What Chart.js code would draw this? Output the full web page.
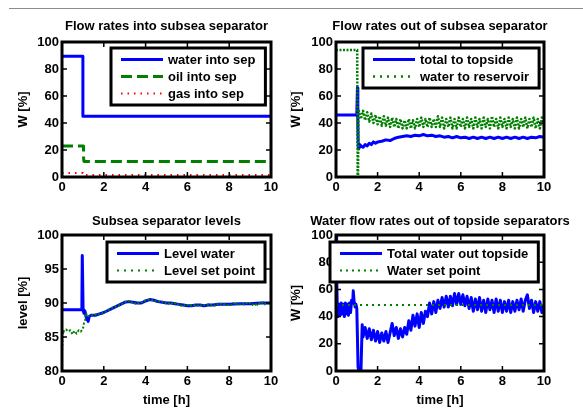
<!DOCTYPE html>
<html>
<head>
<meta charset="utf-8">
<script src="https://cdn.jsdelivr.net/npm/chart.js@4.4.1/dist/chart.umd.min.js"></script>
<style>
  body { margin: 0; background: #fff; width: 583px; height: 409px; overflow: hidden; position: relative; }
  canvas { position: absolute; }
  .rule { position: absolute; left: 9px; top: 8px; width: 574px; border-top: 1px solid #8c8c8c; }
  .mark { position: absolute; left: 290px; width: 0; border-left: 1px dashed #c8c8c8; }
</style>
</head>
<body>
<div class="rule"></div>
<div class="mark" style="top:90px;height:37px"></div>
<div class="mark" style="top:285px;height:37px"></div>
<canvas id="c1" width="285" height="205" style="left:0;top:0"></canvas>
<canvas id="c2" width="298" height="205" style="left:285px;top:0"></canvas>
<canvas id="c3" width="285" height="204" style="left:0;top:205px"></canvas>
<canvas id="c4" width="298" height="204" style="left:285px;top:205px"></canvas>
<script>
// tick labels
const xTicks = [0, 2, 4, 6, 8, 10];
const flowTicks = [0, 20, 40, 60, 80, 100];
const levelTicks = [80, 85, 90, 95, 100];

// Flow rates into subsea separator
const waterInT = [0, 1, 1, 10];
const waterInV = [89.5, 89.5, 45, 45];
const oilInT = [0, 1.03, 1.03, 1.05, 10];
const oilInV = [23, 23, 15, 11.5, 11.5];
const gasInT = [0, 1, 1, 10];
const gasInV = [3, 3, 1.5, 1.5];

// Flow rates out of subsea separator
const topsideT = [0, 1.0, 1.03, 1.05, 1.07, 1.1, 1.15, 1.2, 1.3, 1.4, 1.5, 1.6, 1.7, 1.8, 1.9, 2.0, 2.2, 2.4, 2.6, 2.8,
  3.0, 3.2, 3.4, 3.6, 3.8, 4.0, 4.2, 4.4, 4.6, 4.8, 5.0, 5.2, 5.4, 5.6, 5.8, 6.0, 6.2, 6.4, 6.6, 6.8,
  7.0, 7.2, 7.4, 7.6, 7.8, 8.0, 8.2, 8.4, 8.6, 8.8, 9.0, 9.2, 9.4, 9.6, 9.8, 10];
const topsideV = [46, 46, 66, 40, 22, 21, 24, 23, 22, 24, 23, 25, 24, 26, 25, 26, 26.5, 27.5, 27, 28.5,
  29.5, 30, 30.5, 30, 31, 30.5, 31.5, 30.5, 31, 30, 30.5, 29.5, 30, 29, 30, 29, 29.5, 28.5, 29.5, 28.5,
  29.5, 28.5, 29.5, 28.5, 29.5, 28.5, 29.5, 28.5, 29.5, 28.5, 29.5, 28.5, 29.5, 29, 30, 29.5];
const reservoirT = [0, 1.02, 1.04, 1.06, 1.08,
  1.1, 1.2, 1.3, 1.4, 1.5, 1.6, 1.7, 1.8, 1.9, 2.0, 2.1, 2.2, 2.3, 2.4, 2.5, 2.6, 2.7, 2.8, 2.9, 3.0,
  3.1, 3.2, 3.3, 3.4, 3.5, 3.6, 3.7, 3.8, 3.9, 4.0, 4.1, 4.2, 4.3, 4.4, 4.5, 4.6, 4.7, 4.8, 4.9, 5.0,
  5.1, 5.2, 5.3, 5.4, 5.5, 5.6, 5.7, 5.8, 5.9, 6.0, 6.1, 6.2, 6.3, 6.4, 6.5, 6.6, 6.7, 6.8, 6.9, 7.0,
  7.1, 7.2, 7.3, 7.4, 7.5, 7.6, 7.7, 7.8, 7.9, 8.0, 8.1, 8.2, 8.3, 8.4, 8.5, 8.6, 8.7, 8.8, 8.9, 9.0,
  9.1, 9.2, 9.3, 9.4, 9.5, 9.6, 9.7, 9.8, 9.9, 10.0];
const reservoirV = [94, 94, 0, 0, 47,
  49, 43, 49, 42, 48, 41, 47, 40, 46, 39, 45, 38, 45, 38, 44, 37, 44, 37, 43, 36,
  43, 36, 42, 36, 43, 36, 42, 36, 43, 37, 44, 37, 43, 37, 44, 37, 43, 37, 45, 37,
  44, 36, 43, 37, 44, 36, 43, 36, 44, 37, 43, 36, 44, 37, 43, 36, 44, 37, 43, 36,
  44, 37, 43, 36, 45, 37, 43, 36, 44, 37, 43, 36, 44, 37, 43, 36, 44, 36, 43, 37,
  44, 36, 43, 37, 44, 36, 43, 36, 44, 38];

// Subsea separator levels
const levelT = [0, 0.95, 0.97, 0.99, 1.01, 1.05, 1.1, 1.15, 1.2, 1.25, 1.3, 1.4, 1.6, 1.8, 2.0, 2.2, 2.4, 2.6, 2.8,
  3.0, 3.2, 3.4, 3.6, 3.8, 4.0, 4.2, 4.4, 4.6, 4.8, 5.0, 5.2, 5.4, 5.6, 5.8, 6.0, 6.2, 6.4, 6.6, 6.8,
  7.0, 7.2, 7.5, 8.0, 8.5, 9.0, 9.5, 10];
const levelV = [89, 89, 97, 97, 89, 88.5, 88.8, 88, 87.6, 87.3, 88, 88.2, 88.2, 88.4, 88.6, 88.9, 89.2, 89.5, 89.8,
  90.1, 90.2, 90.1, 90, 90, 90.3, 90.5, 90.4, 90.2, 90.1, 90, 90, 89.9, 89.8, 89.7, 89.6, 89.6, 89.7, 89.7, 89.6,
  89.7, 89.7, 89.8, 89.8, 89.9, 89.9, 90, 90];
const setPointT = [0, 0.03, 0.06, 0.1, 0.2, 0.3, 0.4, 0.5, 0.6, 0.7, 0.8, 0.9, 1.0, 1.05, 1.1, 1.15, 1.2,
  1.3, 1.4, 1.5, 1.6, 1.7, 1.8, 1.9, 2.0, 2.1, 2.2, 2.3, 2.4, 2.5, 2.6, 2.7, 2.8, 2.9, 3.0,
  3.1, 3.2, 3.3, 3.4, 3.5, 3.6, 3.7, 3.8, 3.9, 4.0, 4.1, 4.2, 4.3, 4.4, 4.5, 4.6, 4.7, 4.8, 4.9, 5.0,
  5.1, 5.2, 5.3, 5.4, 5.5, 5.6, 5.7, 5.8, 5.9, 6.0, 6.1, 6.2, 6.3, 6.4, 6.5, 6.6, 6.7, 6.8, 6.9, 7.0,
  7.1, 7.2, 7.3, 7.4, 7.5, 7.6, 7.7, 7.8, 7.9, 8.0, 8.1, 8.2, 8.3, 8.4, 8.5, 8.6, 8.7, 8.8, 8.9, 9.0,
  9.1, 9.2, 9.3, 9.4, 9.5, 9.6, 9.7, 9.8, 9.9, 10.0];
const setPointV = [82.5, 85, 86, 85.8, 86.1, 85.8, 86, 85.4, 85.9, 85.5, 86, 85.8, 86.2, 87, 87.5, 88.5, 88,
  88.1, 88.3, 88.1, 88.3, 88.2, 88.5, 88.4, 88.7, 88.7, 89.0, 89.0, 89.3, 89.3, 89.6, 89.6, 89.9, 89.9, 90.2,
  90.1, 90.3, 90.0, 90.2, 89.9, 90.1, 89.9, 90.1, 90.1, 90.4, 90.4, 90.6, 90.4, 90.5, 90.2, 90.3, 90.1, 90.2, 89.9, 90.1,
  89.9, 90.1, 89.8, 90.0, 89.7, 89.9, 89.6, 89.8, 89.5, 89.7, 89.5, 89.7, 89.6, 89.8, 89.6, 89.8, 89.5, 89.7, 89.6, 89.8,
  89.6, 89.8, 89.6, 89.9, 89.7, 89.9, 89.7, 89.9, 89.7, 89.9, 89.7, 90.0, 89.7, 90.0, 89.8, 90.0, 89.8, 90.0, 89.8, 90.0,
  89.7, 90.0, 89.5, 90.1, 89.8, 90.1, 89.8, 90.1, 89.9, 90.0];

// Water flow rates out of topside separators
const topWaterT = [0, 0.03, 0.06, 0.1, 0.15, 0.2, 0.25, 0.3, 0.35, 0.4, 0.45, 0.5, 0.55, 0.6, 0.65, 0.7, 0.75, 0.8,
  0.83, 0.87, 0.92, 0.96, 1.0, 1.03, 1.06, 1.1, 1.15, 1.2, 1.23, 1.26,
  1.3, 1.4, 1.5, 1.6, 1.7, 1.8, 1.9, 2.0, 2.1, 2.2, 2.3, 2.4, 2.5, 2.6, 2.7, 2.8, 2.9, 3.0,
  3.1, 3.2, 3.3, 3.4, 3.5, 3.6, 3.7, 3.8, 3.9, 4.0, 4.1, 4.2, 4.3, 4.4, 4.5, 4.6, 4.7, 4.8, 4.9, 5.0,
  5.1, 5.2, 5.3, 5.4, 5.5, 5.6, 5.7, 5.8, 5.9, 6.0, 6.1, 6.2, 6.3, 6.4, 6.5, 6.6, 6.7, 6.8, 6.9, 7.0,
  7.1, 7.2, 7.3, 7.4, 7.5, 7.6, 7.7, 7.8, 7.9, 8.0, 8.1, 8.2, 8.3, 8.4, 8.5, 8.6, 8.7, 8.8, 8.9, 9.0,
  9.1, 9.2, 9.3, 9.4, 9.5, 9.6, 9.7, 9.8, 9.9, 10.0];
const topWaterV = [100, 72, 48, 40, 49, 41, 50, 42, 49, 40, 50, 42, 49, 41, 50, 43, 52, 50,
  59, 51, 47, 49, 46, 25, 3, 0, 0, 0, 18, 34,
  25, 32, 24, 31, 23, 30, 22, 29, 21, 28, 22, 29, 21, 28, 35, 26, 32, 24,
  31, 25, 32, 27, 37, 30, 41, 33, 42, 32, 43, 35, 44, 40, 50, 42, 51, 43, 52, 46,
  54, 47, 55, 47, 55, 48, 57, 49, 57, 49, 56, 48, 55, 46, 54, 44, 53, 45, 54, 44,
  52, 43, 53, 45, 52, 43, 53, 44, 52, 43, 51, 44, 52, 43, 51, 44, 52, 45, 53, 44,
  52, 56, 46, 52, 43, 51, 44, 51, 43, 49];
const waterSetT = [0, 10];
const waterSetV = [48.5, 48.5];

const BLUE = '#0000ff';
const GREEN = '#008000';
const RED = '#ff0000';
const FONT = '"Liberation Sans", Arial, Helvetica, sans-serif';

Chart.defaults.font.family = FONT;
Chart.defaults.font.size = 13;
Chart.defaults.font.weight = 'bold';
Chart.defaults.color = '#000';

// MATLAB style box, inward ticks, title and boxed legend
const matlabFrame = {
  id: 'matlabFrame',
  afterDatasetsDraw(chart, args, opts) {
    const { ctx, chartArea: a, scales: { x, y } } = chart;
    ctx.save();
    ctx.strokeStyle = '#000';
    ctx.lineWidth = 1.5;
    ctx.beginPath();
    x.ticks.forEach(t => {
      const px = x.getPixelForValue(t.value);
      ctx.moveTo(px, a.bottom); ctx.lineTo(px, a.bottom - 5);
      ctx.moveTo(px, a.top); ctx.lineTo(px, a.top + 5);
    });
    y.ticks.forEach(t => {
      const py = y.getPixelForValue(t.value);
      ctx.moveTo(a.left, py); ctx.lineTo(a.left + 5, py);
      ctx.moveTo(a.right, py); ctx.lineTo(a.right - 5, py);
    });
    ctx.stroke();
    ctx.lineWidth = 3;
    ctx.strokeRect(a.left, a.top, a.right - a.left, a.bottom - a.top);
    ctx.restore();
  },
  afterDraw(chart, args, opts) {
    const { ctx, chartArea: a } = chart;
    ctx.save();
    ctx.font = 'bold 13px ' + FONT;
    ctx.fillStyle = '#000';
    ctx.textAlign = 'center';
    ctx.textBaseline = 'alphabetic';
    ctx.fillText(opts.title, (a.left + a.right) / 2, opts.titleY);

    // legend
    const lg = opts.legend;
    const sets = chart.data.datasets;
    const textX = lg.left + 10 + 42 + 5;
    let maxW = 0;
    sets.forEach(d => { maxW = Math.max(maxW, ctx.measureText(d.label).width); });
    const w = textX - lg.left + maxW + 10;
    const h = 23 + (sets.length - 1) * 17;
    ctx.fillStyle = '#fff';
    ctx.fillRect(lg.left, lg.top, w, h);
    ctx.lineWidth = 3;
    ctx.strokeStyle = '#000';
    ctx.strokeRect(lg.left, lg.top, w, h);
    ctx.textAlign = 'left';
    ctx.textBaseline = 'middle';
    sets.forEach((d, i) => {
      const yy = lg.top + 11.5 + i * 17;
      ctx.beginPath();
      ctx.setLineDash(d.legendDash || d.borderDash || []);
      ctx.strokeStyle = d.borderColor;
      ctx.lineWidth = Math.min(d.borderWidth, 3);
      ctx.moveTo(lg.left + 10, yy);
      ctx.lineTo(lg.left + 52, yy);
      ctx.stroke();
      ctx.setLineDash([]);
      ctx.fillStyle = '#000';
      ctx.fillText(d.label, textX, yy + 1);
    });
    ctx.restore();
  }
};

function series(label, t, v, color, width, dash, legendDash) {
  return {
    label: label,
    data: t.map((tt, i) => ({ x: tt, y: v[i] })),
    borderColor: color,
    borderWidth: width,
    borderDash: dash,
    borderJoinStyle: 'round',
    legendDash: legendDash,
    pointRadius: 0,
    tension: 0,
    fill: false
  };
}

function makeChart(id, cfg) {
  cfg.sets.forEach((s, i) => { s.order = -i; });
  return new Chart(document.getElementById(id), {
    type: 'line',
    data: { datasets: cfg.sets },
    options: {
      responsive: false,
      animation: false,
      devicePixelRatio: 1,
      layout: { padding: { left: 0, top: cfg.top, right: cfg.right, bottom: 0 } },
      plugins: {
        legend: { display: false },
        tooltip: { enabled: false },
        matlabFrame: { title: cfg.title, titleY: cfg.titleY, legend: cfg.legend }
      },
      scales: {
        x: {
          type: 'linear', min: 0, max: 10,
          afterBuildTicks: s => { s.ticks = xTicks.map(v => ({ value: v })); },
          afterFit: s => { s.height = cfg.xh; },
          grid: { display: false, drawTicks: false },
          border: { display: false },
          ticks: { padding: 3, maxRotation: 0, autoSkip: false, font: { size: 13, weight: 'bold' } },
          title: { display: !!cfg.xTitle, text: cfg.xTitle, font: { size: 13, weight: 'bold' }, padding: { top: 0, bottom: 1 } }
        },
        y: {
          type: 'linear', min: cfg.yTicks[0], max: cfg.yTicks[cfg.yTicks.length - 1],
          afterBuildTicks: s => { s.ticks = cfg.yTicks.map(v => ({ value: v })); },
          afterFit: s => { s.width = cfg.yw; },
          grid: { display: false, drawTicks: false },
          border: { display: false },
          ticks: { padding: 3, autoSkip: false, font: { size: 13, weight: 'bold' } },
          title: { display: true, text: cfg.yTitle, font: { size: 13, weight: 'bold' }, padding: { top: cfg.yTitlePad, bottom: 0 } }
        }
      }
    },
    plugins: [matlabFrame]
  });
}

makeChart('c1', {
  title: 'Flow rates into subsea separator', titleY: 29.5,
  top: 42, right: 14, xh: 28, yw: 62, yTitle: 'W [%]', yTitlePad: 15.5, yTicks: flowTicks,
  legend: { left: 111, top: 48 },
  sets: [
    series('water into sep', waterInT, waterInV, BLUE, 3, []),
    series('oil into sep', oilInT, oilInV, GREEN, 3, [11, 5]),
    series('gas into sep', gasInT, gasInV, RED, 2, [1.5, 5])
  ]
});

makeChart('c2', {
  title: 'Flow rates out of subsea separator', titleY: 29.5,
  top: 42, right: 39, xh: 28, yw: 51, yTitle: 'W [%]', yTitlePad: 4, yTicks: flowTicks,
  legend: { left: 78, top: 48 },
  sets: [
    series('total to topside', topsideT, topsideV, BLUE, 3, []),
    series('water to reservoir', reservoirT, reservoirV, GREEN, 2.5, [2, 1.5], [2, 5])
  ]
});

makeChart('c3', {
  title: 'Subsea separator levels', titleY: 20.3,
  top: 30, right: 14, xh: 38, yw: 62, yTitle: 'level [%]', yTitlePad: 15.5, yTicks: levelTicks,
  xTitle: 'time [h]',
  legend: { left: 107, top: 37 },
  sets: [
    series('Level water', levelT, levelV, BLUE, 3, []),
    series('Level set point', setPointT, setPointV, GREEN, 2, [2, 2], [2, 5])
  ]
});

makeChart('c4', {
  title: 'Water flow rates out of topside separators', titleY: 20.3,
  top: 30, right: 39, xh: 38, yw: 51, yTitle: 'W [%]', yTitlePad: 4, yTicks: flowTicks,
  xTitle: 'time [h]',
  legend: { left: 45, top: 37 },
  sets: [
    series('Total water out topside', topWaterT, topWaterV, BLUE, 3, []),
    series('Water set point', waterSetT, waterSetV, GREEN, 2, [2, 4])
  ]
});
</script>
</body>
</html>
